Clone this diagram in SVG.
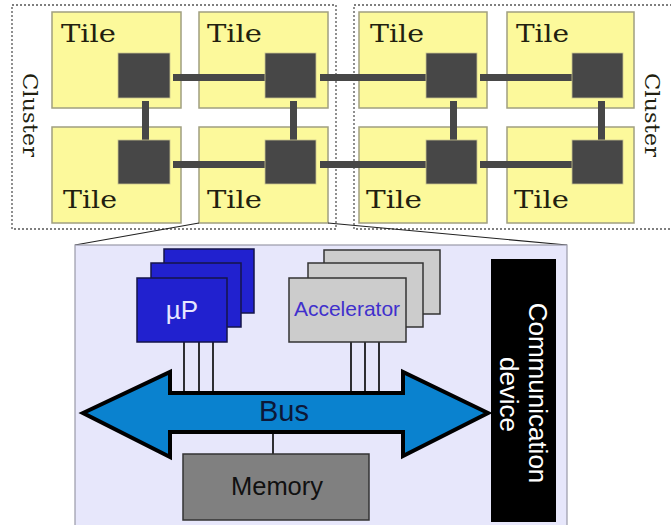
<svg xmlns="http://www.w3.org/2000/svg" width="671" height="525" viewBox="0 0 671 525">
<style>
.cluster{fill:#ffffff;stroke:#555;stroke-width:1.3;stroke-dasharray:2,2}
.tile{fill:#fcf99b;stroke:#a09f80;stroke-width:1.5}
.router{fill:#474747;stroke:#c8c490;stroke-width:0.8}
.link{fill:#474747}
.tt{font-family:"DejaVu Serif",serif;font-size:24.5px;fill:#221f10}
.ct{font-family:"DejaVu Serif",serif;font-size:20px;fill:#221f10}
.sans{font-family:"Liberation Sans",Arial,sans-serif}
.up{fill:#2121cf;stroke:#15154a;stroke-width:1.5}
.acc{fill:#cccccc;stroke:#333;stroke-width:1.5}
.wire{stroke:#000;stroke-width:1.6;fill:none}
.zoom{stroke:#222;stroke-width:1.2;fill:none}
</style>
<g id="cluster-left">
<rect class="cluster" x="12" y="5" width="324" height="224"/>
<text class="ct" transform="translate(23,115) rotate(90)" text-anchor="middle" textLength="84" lengthAdjust="spacingAndGlyphs">Cluster</text>
</g>
<g id="cluster-right">
<rect class="cluster" x="354" y="5" width="330" height="224"/>
<text class="ct" transform="translate(645,115) rotate(90)" text-anchor="middle" textLength="84" lengthAdjust="spacingAndGlyphs">Cluster</text>
</g>
<g id="tile-1"><rect class="tile" x="52" y="12" width="129" height="96"/><text class="tt" x="61" y="42" textLength="55" lengthAdjust="spacingAndGlyphs">Tile</text></g>
<g id="tile-2"><rect class="tile" x="199" y="12" width="129" height="96"/><text class="tt" x="207" y="42" textLength="55" lengthAdjust="spacingAndGlyphs">Tile</text></g>
<g id="tile-3"><rect class="tile" x="52" y="127" width="129" height="96"/><text class="tt" x="63" y="208" textLength="54" lengthAdjust="spacingAndGlyphs">Tile</text></g>
<g id="tile-4"><rect class="tile" x="199" y="127" width="129" height="96"/><text class="tt" x="207" y="208" textLength="55" lengthAdjust="spacingAndGlyphs">Tile</text></g>
<g id="tile-5"><rect class="tile" x="359" y="12" width="128" height="96"/><text class="tt" x="370" y="42" textLength="54" lengthAdjust="spacingAndGlyphs">Tile</text></g>
<g id="tile-6"><rect class="tile" x="507" y="12" width="127" height="96"/><text class="tt" x="516" y="42" textLength="53" lengthAdjust="spacingAndGlyphs">Tile</text></g>
<g id="tile-7"><rect class="tile" x="359" y="127" width="128" height="96"/><text class="tt" x="366" y="208" textLength="56" lengthAdjust="spacingAndGlyphs">Tile</text></g>
<g id="tile-8"><rect class="tile" x="507" y="127" width="127" height="96"/><text class="tt" x="514" y="208" textLength="55" lengthAdjust="spacingAndGlyphs">Tile</text></g>
<g id="connectors">
<rect class="link" x="173" y="74" width="92" height="7"/>
<rect class="link" x="320" y="74" width="106" height="7"/>
<rect class="link" x="480" y="74" width="92" height="7"/>
<rect class="link" x="173" y="161" width="92" height="7"/>
<rect class="link" x="320" y="161" width="106" height="7"/>
<rect class="link" x="480" y="161" width="92" height="7"/>
<rect class="link" x="142" y="101" width="7" height="39"/>
<rect class="link" x="290" y="101" width="7" height="39"/>
<rect class="link" x="450" y="101" width="7" height="39"/>
<rect class="link" x="598" y="101" width="7" height="39"/>
<line class="zoom" x1="199" y1="223" x2="75" y2="245"/>
<line class="zoom" x1="328" y1="223" x2="567" y2="245"/>
</g>
<g id="routers">
<rect class="router" x="118" y="53" width="52" height="45"/>
<rect class="router" x="265" y="53" width="51" height="45"/>
<rect class="router" x="426" y="53" width="51" height="45"/>
<rect class="router" x="572" y="53" width="51" height="45"/>
<rect class="router" x="118" y="140" width="52" height="44"/>
<rect class="router" x="265" y="140" width="51" height="44"/>
<rect class="router" x="426" y="140" width="51" height="44"/>
<rect class="router" x="572" y="140" width="51" height="44"/>
</g>
<g id="tile-detail">
<rect x="75" y="245" width="492" height="290" fill="#e7e7fb" stroke="#9a9aa8" stroke-width="1.2"/>
</g>
<g id="bus-wires">
<line class="wire" x1="184" y1="342" x2="184" y2="393"/>
<line class="wire" x1="199" y1="342" x2="199" y2="393"/>
<line class="wire" x1="213" y1="342" x2="213" y2="393"/>
<line class="wire" x1="351" y1="342" x2="351" y2="393"/>
<line class="wire" x1="365" y1="342" x2="365" y2="393"/>
<line class="wire" x1="379" y1="342" x2="379" y2="393"/>
<line class="wire" x1="273" y1="432" x2="273" y2="454"/>
</g>
<g id="up">
<rect class="up" x="164" y="249" width="90" height="64"/>
<rect class="up" x="151" y="263" width="90" height="64"/>
<rect class="up" x="137" y="278" width="90" height="64"/>
<text class="sans" x="182" y="319" font-size="26" fill="#e6e6ff" text-anchor="middle">µP</text>
</g>
<g id="accelerator">
<rect class="acc" x="324" y="250" width="116" height="64"/>
<rect class="acc" x="308" y="263" width="115" height="64"/>
<rect class="acc" x="289" y="278" width="117" height="64"/>
<text class="sans" x="347" y="316" font-size="21" fill="#4030cc" text-anchor="middle">Accelerator</text>
</g>
<g id="bus">
<polygon points="83,413 170,372 170,393 403,393 403,372 488,413 403,456 403,432 170,432 170,457" fill="#0a82cf" stroke="#000" stroke-width="4" stroke-linejoin="miter"/>
<text class="sans" x="284" y="421" font-size="29" fill="#0c1838" text-anchor="middle">Bus</text>
</g>
<g id="memory">
<rect x="183" y="454" width="186" height="66" fill="#808080" stroke="#333" stroke-width="1.5"/>
<text class="sans" x="277" y="495" font-size="25.5" fill="#111" text-anchor="middle">Memory</text>
</g>
<g id="communication-device">
<rect x="491" y="259" width="65" height="263" fill="#000"/>
<text class="sans" transform="translate(529,393) rotate(90)" font-size="26" fill="#fff" text-anchor="middle">Communication</text>
<text class="sans" transform="translate(500,394.5) rotate(90)" font-size="26" fill="#fff" text-anchor="middle">device</text>
</g>
</svg>
